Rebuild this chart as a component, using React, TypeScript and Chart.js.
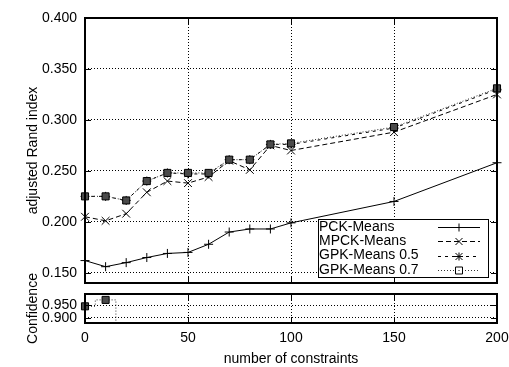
import React, { useEffect, useRef } from 'react';
import { Chart, registerables } from 'chart.js';

Chart.register(...registerables);

// ---------- data ----------
const xValues = [0, 10, 20, 30, 40, 50, 60, 70, 80, 90, 100, 150, 200];
const seriesNames = ['PCK-Means', 'MPCK-Means', 'GPK-Means 0.5', 'GPK-Means 0.7'];
const pckMeans = [0.162, 0.156, 0.160, 0.165, 0.169, 0.170, 0.178, 0.190, 0.193, 0.193, 0.199, 0.220, 0.258];
const mpckMeans = [0.205, 0.201, 0.208, 0.229, 0.240, 0.238, 0.244, 0.260, 0.251, 0.275, 0.270, 0.288, 0.325];
const gpkMeans05 = [0.225, 0.225, 0.221, 0.240, 0.248, 0.247, 0.247, 0.261, 0.261, 0.276, 0.276, 0.292, 0.330];
const gpkMeans07 = [0.225, 0.225, 0.221, 0.240, 0.248, 0.248, 0.248, 0.261, 0.261, 0.276, 0.277, 0.293, 0.331];
const confX = [0, 10, 20];
const confGpk07 = [0.945, 0.970, 0.850];
const xTicks = [0, 50, 100, 150, 200];
const yTicks = [0.15, 0.2, 0.25, 0.3, 0.35, 0.4];
const confTicks = [0.9, 0.95];

const FONT = "'Liberation Sans', Arial, Helvetica, sans-serif";
Chart.defaults.font.family = FONT;
Chart.defaults.font.size = 14;
Chart.defaults.color = '#000';

const styles = [
  { pointStyle: 'cross', radius: 4.5, dash: [] as number[], color: '#000', bg: '#000' },
  { pointStyle: 'crossRot', radius: 5.5, dash: [5, 3], color: '#000', bg: '#000' },
  { pointStyle: 'star', radius: 4.5, dash: [3, 4], color: '#000', bg: '#000' },
  { pointStyle: 'rect', radius: 5, dash: [1, 2], color: '#333', bg: '#4a4a4a' },
];

function drawMarker(ctx: CanvasRenderingContext2D, style: string, x: number, y: number) {
  ctx.save();
  ctx.setLineDash([]);
  ctx.strokeStyle = '#000';
  ctx.lineWidth = 1;
  ctx.beginPath();
  if (style === 'cross' || style === 'star') {
    ctx.moveTo(x - 4, y); ctx.lineTo(x + 4, y);
    ctx.moveTo(x, y - 4); ctx.lineTo(x, y + 4);
  }
  if (style === 'crossRot' || style === 'star') {
    ctx.moveTo(x - 3.5, y - 3.5); ctx.lineTo(x + 3.5, y + 3.5);
    ctx.moveTo(x - 3.5, y + 3.5); ctx.lineTo(x + 3.5, y - 3.5);
  }
  if (style === 'rect') {
    ctx.rect(x - 3.5, y - 3.5, 7, 7);
    ctx.fillStyle = '#000';
    ctx.fillRect(x - 0.5, y - 0.5, 1, 1);
  }
  ctx.stroke();
  ctx.restore();
}

const framePlugin = {
  id: 'frame',
  afterDatasetsDraw(chart: any) {
    const { ctx, chartArea: a, scales } = chart;
    ctx.save();
    ctx.setLineDash([]);
    ctx.strokeStyle = '#000';
    ctx.lineWidth = 1;
    const xs = scales.x;
    const ys = scales.y;
    ctx.beginPath();
    xs.ticks.forEach((t: any) => {
      const px = Math.round(xs.getPixelForValue(t.value)) + 0.5;
      ctx.moveTo(px, a.bottom); ctx.lineTo(px, a.bottom - 6);
      ctx.moveTo(px, a.top); ctx.lineTo(px, a.top + 6);
    });
    ys.ticks.forEach((t: any) => {
      const py = Math.round(ys.getPixelForValue(t.value)) + 0.5;
      ctx.moveTo(a.left, py); ctx.lineTo(a.left + 6, py);
      ctx.moveTo(a.right, py); ctx.lineTo(a.right - 6, py);
    });
    ctx.stroke();
    ctx.lineWidth = 2;
    ctx.strokeRect(a.left, a.top, a.right - a.left, a.bottom - a.top);
    ctx.restore();
  },
};

const legendPlugin = {
  id: 'boxLegend',
  afterDraw(chart: any) {
    const { ctx, chartArea: a } = chart;
    const left = a.right - 179;
    const top = a.bottom - 64;
    const w = 170;
    const h = 58;
    ctx.save();
    ctx.fillStyle = '#fff';
    ctx.fillRect(left, top, w, h);
    ctx.strokeStyle = '#000';
    ctx.lineWidth = 1;
    ctx.setLineDash([]);
    ctx.strokeRect(left + 0.5, top + 0.5, w, h);
    ctx.font = `14px ${FONT}`;
    ctx.textBaseline = 'middle';
    ctx.textAlign = 'left';
    chart.data.datasets.forEach((ds: any, i: number) => {
      const y = top + 8 + i * 14.3;
      ctx.fillStyle = '#000';
      ctx.fillText(ds.label, left + 1, y);
      const st = styles[i];
      ctx.save();
      ctx.strokeStyle = st.color;
      ctx.lineWidth = 1;
      ctx.setLineDash(st.dash);
      ctx.beginPath();
      ctx.moveTo(left + 120, Math.round(y) + 0.5);
      ctx.lineTo(left + 162, Math.round(y) + 0.5);
      ctx.stroke();
      ctx.restore();
      if (st.pointStyle === 'rect') {
        ctx.fillStyle = '#fff';
        ctx.fillRect(left + 137, Math.round(y) - 3, 7, 7);
      }
      drawMarker(ctx, st.pointStyle, left + 141, Math.round(y) + 0.5);
    });
    ctx.restore();
  },
};

const gridCommon = { color: '#000', lineWidth: 1, drawTicks: false };
const borderCommon = { display: false, dash: [1, 2] };
const noPadY = (s: any) => { s.width = 85; s.paddingTop = 0; s.paddingBottom = 0; };

export default function App() {
  const mainRef = useRef<HTMLCanvasElement>(null);
  const confRef = useRef<HTMLCanvasElement>(null);

  useEffect(() => {
    const series = [pckMeans, mpckMeans, gpkMeans05, gpkMeans07];
    const main = new Chart(mainRef.current!, {
      type: 'line',
      data: {
        datasets: series.map((vals, i) => ({
          label: seriesNames[i],
          data: xValues.map((x, j) => ({ x, y: vals[j] })),
          borderColor: styles[i].color,
          borderWidth: 1,
          borderDash: styles[i].dash,
          pointStyle: styles[i].pointStyle,
          pointRadius: styles[i].radius,
          pointBorderColor: '#000',
          pointBackgroundColor: styles[i].bg,
          pointBorderWidth: 1,
          tension: 0,
          fill: false,
          clip: false,
          order: 3 - i,
        })),
      },
      options: {
        animation: false,
        responsive: false,
        maintainAspectRatio: false,
        layout: { padding: { top: 18, right: 12, bottom: 7, left: 0 } },
        plugins: { legend: { display: false }, tooltip: { enabled: false } },
        scales: {
          x: {
            type: 'linear', min: 0, max: 200,
            afterBuildTicks: (s: any) => { s.ticks = xTicks.map((v) => ({ value: v })); },
            ticks: { display: false, autoSkip: false },
            grid: gridCommon, border: borderCommon,
            afterFit: (s: any) => { s.height = 0; s.paddingLeft = 0; s.paddingRight = 0; },
          },
          y: {
            type: 'linear', min: 0.14, max: 0.40,
            afterBuildTicks: (s: any) => { s.ticks = yTicks.map((v) => ({ value: v })); },
            ticks: { padding: 8, autoSkip: false, callback: (v: any) => Number(v).toFixed(3) },
            grid: gridCommon, border: borderCommon,
            title: { display: true, text: 'adjusted Rand index', padding: { top: 25, bottom: 0 } },
            afterFit: noPadY,
          },
        },
      } as any,
      plugins: [framePlugin, legendPlugin],
    });

    const conf = new Chart(confRef.current!, {
      type: 'line',
      data: {
        datasets: [{
          label: seriesNames[3],
          data: confX.map((x, j) => ({ x, y: confGpk07[j] })),
          borderColor: '#333',
          borderWidth: 1,
          borderDash: [1, 2],
          stepped: 'middle',
          pointStyle: 'rect',
          pointRadius: 5,
          pointBorderColor: '#000',
          pointBackgroundColor: '#4a4a4a',
          pointBorderWidth: 1,
          fill: false,
          clip: { left: 10, right: 10, top: 10, bottom: 0 },
        }],
      },
      options: {
        animation: false,
        responsive: false,
        maintainAspectRatio: false,
        layout: { padding: { top: 54, right: 12, bottom: 0, left: 0 } },
        plugins: { legend: { display: false }, tooltip: { enabled: false } },
        scales: {
          x: {
            type: 'linear', min: 0, max: 200,
            afterBuildTicks: (s: any) => { s.ticks = xTicks.map((v) => ({ value: v })); },
            ticks: { padding: 7, autoSkip: false, maxRotation: 0, callback: (v: any) => String(v) },
            grid: gridCommon, border: borderCommon,
            title: { display: true, text: 'number of constraints', padding: { top: 0, bottom: -1 } },
            afterFit: (s: any) => { s.height = 44; s.paddingLeft = 0; s.paddingRight = 0; },
          },
          y: {
            type: 'linear', min: 0.88, max: 0.993,
            afterBuildTicks: (s: any) => { s.ticks = confTicks.map((v) => ({ value: v })); },
            ticks: { padding: 8, autoSkip: false, callback: (v: any) => Number(v).toFixed(3) },
            grid: gridCommon, border: borderCommon,
            title: { display: true, text: 'Confidence', padding: { top: 25, bottom: 0 } },
            afterFit: noPadY,
          },
        },
      } as any,
      plugins: [framePlugin],
    });

    return () => { main.destroy(); conf.destroy(); };
  }, []);

  return (
    <div style={{ position: 'absolute', left: 0, top: 0, width: 509, height: 367, background: '#fff' }}>
      <canvas ref={mainRef} width={509} height={290} style={{ position: 'absolute', left: 0, top: 0, display: 'block' }} />
      <canvas ref={confRef} width={509} height={127} style={{ position: 'absolute', left: 0, top: 240, display: 'block' }} />
    </div>
  );
}
